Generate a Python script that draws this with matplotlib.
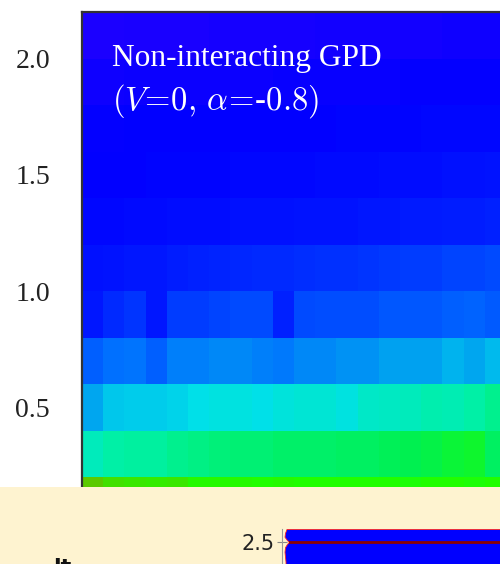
import numpy as np
import matplotlib
matplotlib.use('Agg')
from matplotlib import pyplot as plt
from matplotlib.colors import LinearSegmentedColormap
from matplotlib.patches import Rectangle

plt.rcParams['mathtext.fontset'] = 'cm'

# bins of the GPD map
x_edges = np.round(np.arange(0, 2.01, 0.1), 2)
y_edges = np.round(np.arange(0, 2.21, 0.2), 2)

# normalised density, one row per y bin (bottom to top)
row_00 = [0.99, 0.95, 0.94, 0.93, 0.94, 0.91, 0.91, 0.91, 0.90, 0.91, 0.90, 0.90, 0.90, 0.90, 0.90, 0.89, 0.90, 0.90, 0.89, 0.90]
row_02 = [0.67, 0.70, 0.71, 0.71, 0.73, 0.74, 0.75, 0.76, 0.76, 0.77, 0.77, 0.77, 0.78, 0.78, 0.79, 0.80, 0.81, 0.83, 0.84, 0.78]
row_04 = [0.51, 0.56, 0.57, 0.57, 0.58, 0.60, 0.61, 0.61, 0.60, 0.62, 0.63, 0.63, 0.61, 0.65, 0.66, 0.67, 0.69, 0.68, 0.70, 0.73]
row_06 = [0.36, 0.40, 0.41, 0.36, 0.43, 0.43, 0.45, 0.45, 0.43, 0.42, 0.45, 0.45, 0.47, 0.47, 0.50, 0.50, 0.50, 0.53, 0.51, 0.54]
row_08 = [0.17, 0.23, 0.26, 0.17, 0.28, 0.28, 0.30, 0.31, 0.31, 0.20, 0.31, 0.32, 0.32, 0.32, 0.34, 0.34, 0.34, 0.36, 0.37, 0.35]
row_10 = [0.15, 0.16, 0.17, 0.17, 0.19, 0.20, 0.21, 0.22, 0.23, 0.23, 0.24, 0.25, 0.25, 0.26, 0.27, 0.28, 0.28, 0.30, 0.30, 0.31]
row_12 = [0.12, 0.12, 0.13, 0.13, 0.14, 0.14, 0.14, 0.15, 0.15, 0.15, 0.16, 0.16, 0.16, 0.17, 0.17, 0.18, 0.18, 0.19, 0.19, 0.20]
row_14 = [0.10, 0.10, 0.10, 0.11, 0.11, 0.11, 0.11, 0.12, 0.12, 0.12, 0.12, 0.13, 0.13, 0.13, 0.14, 0.14, 0.14, 0.15, 0.15, 0.16]
row_16 = [0.09, 0.09, 0.10, 0.10, 0.10, 0.10, 0.10, 0.10, 0.10, 0.10, 0.10, 0.10, 0.11, 0.11, 0.11, 0.11, 0.12, 0.12, 0.12, 0.12]
row_18 = [0.06, 0.06, 0.07, 0.07, 0.07, 0.07, 0.07, 0.07, 0.07, 0.08, 0.08, 0.08, 0.08, 0.08, 0.08, 0.09, 0.09, 0.09, 0.09, 0.09]
row_20 = [0.02, 0.02, 0.03, 0.03, 0.03, 0.03, 0.04, 0.04, 0.04, 0.04, 0.04, 0.05, 0.05, 0.05, 0.05, 0.05, 0.05, 0.06, 0.06, 0.06]

y_ticks = [0.5, 1.0, 1.5, 2.0]
y_ticklabels = ['0.5', '1.0', '1.5', '2.0']

# lower panel: boundary of the filled region and the reference level
level = 2.5
edge_y = [1.2, 1.8, 2.2, 2.35, 2.42, 2.47, 2.5, 2.53, 2.58, 2.64, 2.7]
edge_x = [0.016, 0.016, 0.014, 0.010, 0.012, 0.020, 0.028, 0.020, 0.010, 0.012, 0.018]

cmap = LinearSegmentedColormap.from_list('gpd', [
    (0.00, '#2200ff'), (0.10, '#0000ff'), (0.25, '#0030ff'),
    (0.40, '#0070ff'), (0.50, '#00a0f0'), (0.60, '#00e0e8'),
    (0.70, '#00f0a8'), (0.80, '#00f050'), (0.90, '#20ff00'),
    (1.00, '#60c400')])

Z = np.array([row_00, row_02, row_04, row_06, row_08, row_10,
              row_12, row_14, row_16, row_18, row_20])

W, H = 500, 564
fig = plt.figure(figsize=(W / 100, H / 100), dpi=100)

# main map
ax = fig.add_axes([82 / W, 1 - 524 / H, 424 / W, 512 / H])
ax.pcolormesh(x_edges, y_edges, Z, cmap=cmap, vmin=0, vmax=1)
ax.set_xlim(x_edges[0], x_edges[-1])
ax.set_ylim(y_edges[0], y_edges[-1])
ax.set_yticks(y_ticks)
ax.set_yticklabels(y_ticklabels, family='Liberation Serif', fontsize=20, color='#222222')
ax.tick_params(axis='y', length=0, pad=23)
ax.set_xticks([])
for s in ax.spines.values():
    s.set_color('#333333')
    s.set_linewidth(1.6)

ax.text(0.071, 0.8945, 'Non-interacting GPD', transform=ax.transAxes,
        family='Liberation Serif', fontsize=22.6, color='white', va='baseline')
ax.text(0.071, 0.809, r'$(V\!=\!0,\,\alpha\!=\!$-$0.8)$', transform=ax.transAxes,
        family='Liberation Serif', fontsize=23.5, color='white', va='baseline')

# page background below the map
fig.patches.append(Rectangle((0, 0), 1, 77 / H, transform=fig.transFigure,
                             facecolor='#fef3d0', edgecolor='none', zorder=1))

# lower panel
ax2 = fig.add_axes([282 / W, 1 - (529 + 97.5) / H, 250 / W, 97.5 / H], zorder=2)
ax2.set_facecolor('none')
ax2.fill_betweenx(edge_y, edge_x, 1.0, color='#0000ff', edgecolor='#ff2020', linewidth=0.6)
ax2.plot([0.032, 1.0], [level, level], color='#8b0000', lw=2)
ax2.set_xlim(0, 1)
ax2.set_ylim(1.2, 2.7)
ax2.set_yticks([level])
ax2.set_yticklabels(['2.5'], fontsize=15, color='#222222')
ax2.tick_params(axis='y', direction='inout', length=7, pad=2, color='#888888')
ax2.set_xticks([])
for side in ['top', 'right', 'bottom']:
    ax2.spines[side].set_visible(False)
ax2.spines['left'].set_color('#999999')

fig.text(53 / W, (564 - 574) / H, 'lt', fontsize=16, weight='bold', color='#111111',
         va='baseline', ha='left', zorder=3)

fig.savefig('out.png', dpi=100)
